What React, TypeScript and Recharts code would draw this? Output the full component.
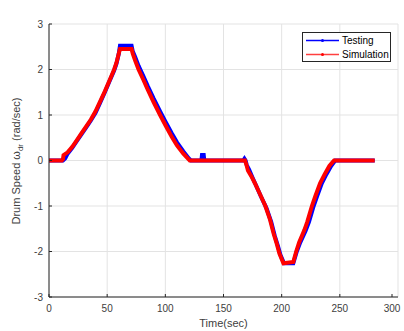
import React from 'react';
import { LineChart, Line, XAxis, YAxis, CartesianGrid } from 'recharts';

// time (sec) and drum speed (rad/sec)
const simTime = [0, 11, 12, 12.5, 16, 20, 24, 28, 32, 36, 40, 44, 48, 52, 56, 58, 60, 61, 71, 72, 74, 77, 81, 85, 90, 95.5, 100, 105.5, 110, 115.5, 121, 168.5, 170, 171, 174, 177, 181, 186, 190, 193, 196, 198, 201.5, 210, 212.5, 215, 219.5, 222, 226, 229, 233, 237, 241, 245, 280];
const simSpeed = [0, 0, 0.03, 0.12, 0.18, 0.3, 0.45, 0.6, 0.75, 0.9, 1.08, 1.3, 1.52, 1.76, 2.0, 2.15, 2.35, 2.45, 2.45, 2.35, 2.2, 2.0, 1.78, 1.55, 1.28, 1.0, 0.78, 0.52, 0.33, 0.15, 0, 0, -0.12, -0.22, -0.35, -0.5, -0.72, -1.0, -1.3, -1.6, -1.85, -2.04, -2.26, -2.23, -2.0, -1.8, -1.53, -1.35, -1.0, -0.78, -0.5, -0.3, -0.12, 0, 0];

const testTime = [0, 12, 14, 16, 20, 24, 28, 32, 36, 40, 44, 48, 52, 56, 58, 60, 61, 71, 72, 74, 77, 81, 85, 90, 95.5, 100, 105.5, 110, 115.5, 120, 122, 131, 131.5, 133, 133.5, 167, 168, 169, 170, 172, 175, 178, 182, 187, 191, 194, 197, 199, 202, 210, 213, 216, 220.5, 223.5, 227.5, 230.5, 234.5, 238.5, 242.5, 246, 280];
const testSpeed = [0, 0, 0.05, 0.15, 0.28, 0.43, 0.58, 0.73, 0.88, 1.05, 1.27, 1.5, 1.74, 1.98, 2.13, 2.35, 2.52, 2.52, 2.4, 2.28, 2.08, 1.86, 1.63, 1.36, 1.08, 0.86, 0.6, 0.4, 0.2, 0.05, 0, 0, 0.12, 0.12, 0, 0, 0.04, 0, -0.1, -0.2, -0.38, -0.55, -0.78, -1.05, -1.35, -1.65, -1.9, -2.08, -2.26, -2.26, -2.0, -1.8, -1.55, -1.35, -1.0, -0.78, -0.5, -0.3, -0.12, 0, 0];

const xTicks = [0, 50, 100, 150, 200, 250, 300];
const yTicks = [-3, -2, -1, 0, 1, 2, 3];
const seriesNames = ['Testing', 'Simulation'];
const seriesColors = ['#0000ff', '#ff0000'];

const FONT = '"Liberation Sans", Arial, Helvetica, sans-serif';
const AXIS = '#262626';
const TICK_TEXT = '#404040';

const simData = simTime.map((t, i) => ({ t, v: simSpeed[i] }));
const testData = testTime.map((t, i) => ({ t, v: testSpeed[i] }));

const BottomTick = ({ x, y, payload }: any) => (
    <g>
        <line x1={x} y1={y} x2={x} y2={y - 3} stroke={AXIS} />
        <text x={x} y={y + 15} textAnchor="middle" fontSize={10} fontFamily={FONT} fill={TICK_TEXT}>
            {payload.value}
        </text>
    </g>
);

const TopTick = ({ x, y }: any) => <line x1={x} y1={y} x2={x} y2={y + 3} stroke={AXIS} />;

const LeftTick = ({ x, y, payload }: any) => (
    <g>
        <line x1={x} y1={y} x2={x + 3} y2={y} stroke={AXIS} />
        <text x={x - 6} y={y + 3.5} textAnchor="end" fontSize={10} fontFamily={FONT} fill={TICK_TEXT}>
            {payload.value}
        </text>
    </g>
);

const RightTick = ({ x, y }: any) => <line x1={x} y1={y} x2={x - 3} y2={y} stroke={AXIS} />;

export default function App() {
    return (
        <div style={{ position: 'absolute', left: 0, top: 0, width: 404, height: 331, background: '#fff' }}>
            <LineChart width={404} height={331} margin={{ top: 24, right: 6, left: 0, bottom: 0 }}>
                <CartesianGrid stroke="#e3e3e3" />
                <XAxis
                    dataKey="t"
                    type="number"
                    domain={[0, 300]}
                    ticks={xTicks}
                    height={34}
                    tickSize={0}
                    tickMargin={0}
                    tick={<BottomTick />}
                    stroke={AXIS}
                    allowDataOverflow
                    label={{
                        content: ({ viewBox }: any) => (
                            <text x={viewBox.x + viewBox.width / 2} y={327} textAnchor="middle" fontSize={11} fontFamily={FONT} fill={TICK_TEXT}>
                                Time(sec)
                            </text>
                        ),
                    }}
                />
                <XAxis
                    xAxisId="top"
                    orientation="top"
                    dataKey="t"
                    type="number"
                    domain={[0, 300]}
                    ticks={xTicks}
                    height={0}
                    tickSize={0}
                    tickMargin={0}
                    tick={<TopTick />}
                    stroke={AXIS}
                    label={{
                        content: () => (
                            <text x={49 + 349 / 2} y={18} textAnchor="middle" fontSize={11} fontWeight="bold" fontFamily={FONT} fill="#000">
                                Testing vs Simulation
                            </text>
                        ),
                    }}
                />
                <YAxis
                    type="number"
                    domain={[-3, 3]}
                    ticks={yTicks}
                    width={49}
                    tickSize={0}
                    tickMargin={0}
                    tick={<LeftTick />}
                    stroke={AXIS}
                    label={{
                        content: () => (
                            <text x={20} y={161} transform="rotate(-90 20 161)" textAnchor="middle" fontSize={11} fontFamily={FONT} fill={TICK_TEXT}>
                                Drum Speed ω
                                <tspan fontSize={8} dy={3}>dr</tspan>
                                <tspan dy={-3}>  (rad/sec)</tspan>
                            </text>
                        ),
                    }}
                />
                <YAxis
                    yAxisId="right"
                    orientation="right"
                    type="number"
                    domain={[-3, 3]}
                    ticks={yTicks}
                    width={0}
                    tickSize={0}
                    tickMargin={0}
                    tick={<RightTick />}
                    stroke={AXIS}
                />
                <Line
                    data={testData}
                    dataKey="v"
                    name={seriesNames[0]}
                    type="linear"
                    stroke={seriesColors[0]}
                    strokeWidth={4}
                    dot={false}
                    isAnimationActive={false}
                />
                <Line
                    data={simData}
                    dataKey="v"
                    name={seriesNames[1]}
                    type="linear"
                    stroke={seriesColors[1]}
                    strokeWidth={4}
                    dot={false}
                    isAnimationActive={false}
                />
            </LineChart>
            {/* legend box, top right inside the axes */}
            <div
                style={{
                    position: 'absolute',
                    left: 302,
                    top: 32,
                    width: 87,
                    height: 28,
                    border: '1px solid #262626',
                    background: '#fff',
                    fontFamily: FONT,
                    fontSize: 10,
                    color: '#000',
                }}
            >
                {seriesNames.map((name, i) => (
                    <div key={name} style={{ position: 'absolute', left: 2, top: 2 + i * 13.5, height: 11, display: 'flex', alignItems: 'center' }}>
                        <svg width={34} height={11}>
                            <line x1={1} y1={5.5} x2={34} y2={5.5} stroke={seriesColors[i]} strokeWidth={1.5} opacity={i === 1 ? 0.75 : 1} />
                            <circle cx={17.5} cy={5.5} r={1.5} fill={seriesColors[i]} />
                        </svg>
                        <span style={{ marginLeft: 3, lineHeight: '11px' }}>{name}</span>
                    </div>
                ))}
            </div>
        </div>
    );
}
